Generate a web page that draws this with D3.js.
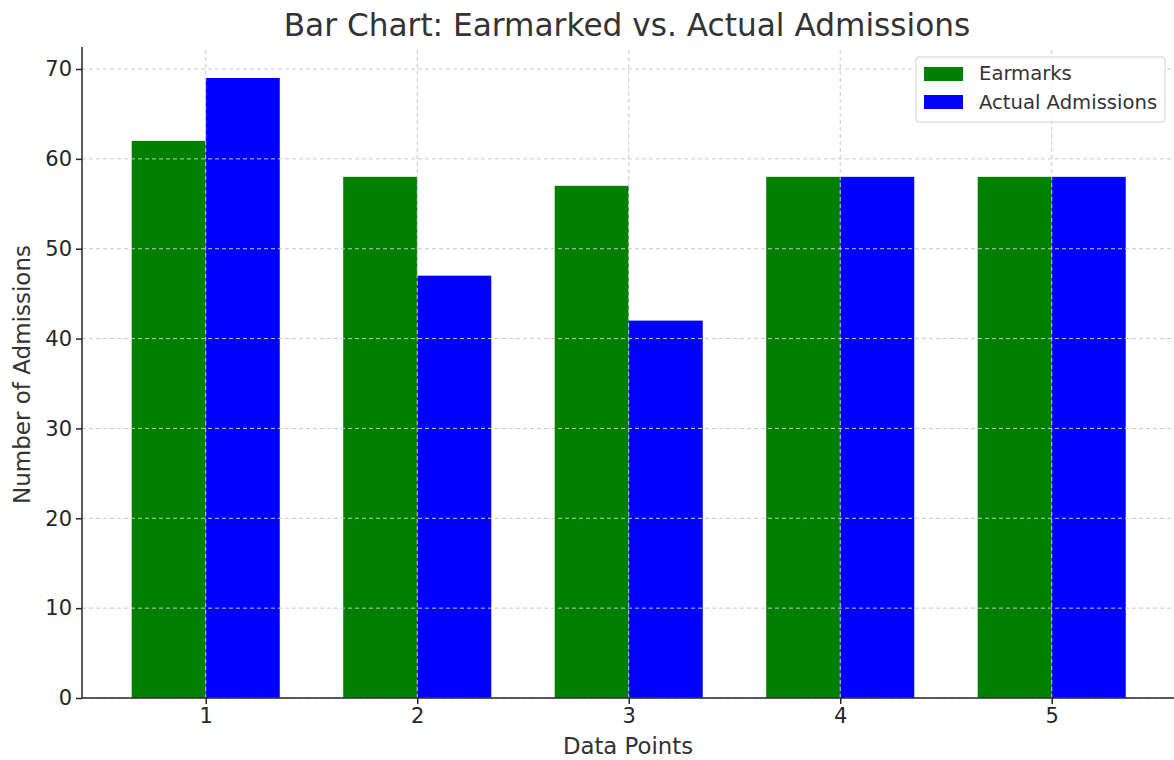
<!DOCTYPE html>
<html lang="en">
<head>
    <meta charset="UTF-8">
    <title>Bar Chart: Earmarked vs. Actual Admissions</title>
    <script src="https://d3js.org/d3.v7.min.js"></script>
    <style>
        body {
            margin: 0;
            background: #fff;
            font-family: 'DejaVu Sans', sans-serif;
            overflow: hidden;
        }
        .grid line {
            stroke: #c8c8c8;
            stroke-dasharray: 4 3;
            stroke-width: 1;
        }
        .axis text {
            fill: #262626;
        }
        .axis path, .axis line {
            stroke: #262626;
            stroke-width: 1.5;
        }
    </style>
</head>
<body>
<svg id="chart" width="1174" height="760"></svg>
<script>
    // data
    const categories = [1, 2, 3, 4, 5];
    const earmarks = [62, 58, 57, 58, 58];
    const actual = [69, 47, 42, 58, 58];
    const yTicks = [0, 10, 20, 30, 40, 50, 60, 70];
    const seriesNames = ["Earmarks", "Actual Admissions"];
    const seriesColors = ["#008000", "#0000ff"];

    const width = 1174, height = 760;
    const margin = {top: 47, right: 0, bottom: 62, left: 82};
    const barW = 0.35;

    const svg = d3.select("#chart");

    // x is linear like matplotlib, with 5% padding on the bar extent
    const xMin = d3.min(categories) - barW, xMax = d3.max(categories) + barW;
    const xPad = (xMax - xMin) * 0.05;
    const x = d3.scaleLinear()
        .domain([xMin - xPad, xMax + xPad])
        .range([margin.left, margin.left + (1051 - 205) / 4 * (xMax - xMin + 2 * xPad)]);

    const yMax = d3.max(earmarks.concat(actual)) * 1.05;
    const y = d3.scaleLinear()
        .domain([0, yMax])
        .range([height - margin.bottom, margin.top]);

    // bars
    const series = [earmarks, actual];
    series.forEach(function(vals, si) {
        svg.append("g").selectAll("rect")
            .data(vals)
            .enter()
            .append("rect")
            .attr("x", (d, i) => si === 0 ? x(categories[i] - barW) : x(categories[i]))
            .attr("width", x(barW) - x(0))
            .attr("y", d => y(d))
            .attr("height", d => y(0) - y(d))
            .attr("fill", seriesColors[si]);
    });

    // grid on top of bars
    const grid = svg.append("g").attr("class", "grid");
    grid.selectAll(".gy")
        .data(yTicks)
        .enter()
        .append("line")
        .attr("x1", x.range()[0])
        .attr("x2", x.range()[1])
        .attr("y1", d => y(d))
        .attr("y2", d => y(d));
    grid.selectAll(".gx")
        .data(categories)
        .enter()
        .append("line")
        .attr("x1", d => x(d))
        .attr("x2", d => x(d))
        .attr("y1", y(0))
        .attr("y2", y(yMax));

    // axes
    const yAxis = d3.axisLeft(y).tickValues(yTicks).tickSize(6).tickPadding(4);
    svg.append("g")
        .attr("class", "axis")
        .attr("transform", "translate(" + margin.left + ",0)")
        .call(yAxis)
        .attr("font-size", 21)
        .attr("font-family", null)
        .call(g => g.select(".domain").attr("d", "M0," + y(0) + "V" + y(yMax)));

    const xAxis = d3.axisBottom(x).tickValues(categories).tickFormat(d3.format("d")).tickSize(6).tickPadding(4);
    svg.append("g")
        .attr("class", "axis")
        .attr("transform", "translate(0," + y(0) + ")")
        .call(xAxis)
        .attr("font-size", 21)
        .attr("font-family", null)
        .call(g => g.select(".domain").attr("d", "M" + x.range()[0] + ",0H" + x.range()[1]));

    // title and labels
    svg.append("text")
        .attr("x", 627)
        .attr("y", 36)
        .attr("text-anchor", "middle")
        .attr("font-size", "31.2px")
        .attr("fill", "#333")
        .text("Bar Chart: Earmarked vs. Actual Admissions");

    svg.append("text")
        .attr("x", 628)
        .attr("y", 754)
        .attr("text-anchor", "middle")
        .attr("font-size", "22.8px")
        .attr("fill", "#333")
        .text("Data Points");

    svg.append("text")
        .attr("transform", "translate(30," + ((y(0) + y(yMax)) / 2 + 2) + ") rotate(-90)")
        .attr("text-anchor", "middle")
        .attr("font-size", "23px")
        .attr("fill", "#333")
        .text("Number of Admissions");

    // legend
    const legend = svg.append("g").attr("transform", "translate(916,57)");
    legend.append("rect")
        .attr("width", 249)
        .attr("height", 65)
        .attr("rx", 3)
        .attr("fill", "#fff")
        .attr("fill-opacity", 0.85)
        .attr("stroke", "#d0d0d0");
    seriesNames.forEach(function(name, i) {
        legend.append("rect")
            .attr("x", 8)
            .attr("y", 10 + i * 28)
            .attr("width", 39)
            .attr("height", 14)
            .attr("fill", seriesColors[i]);
        legend.append("text")
            .attr("x", 63)
            .attr("y", 23 + i * 29)
            .attr("font-size", "19.6px")
            .attr("fill", "#333")
            .text(name);
    });
</script>
</body>
</html>
